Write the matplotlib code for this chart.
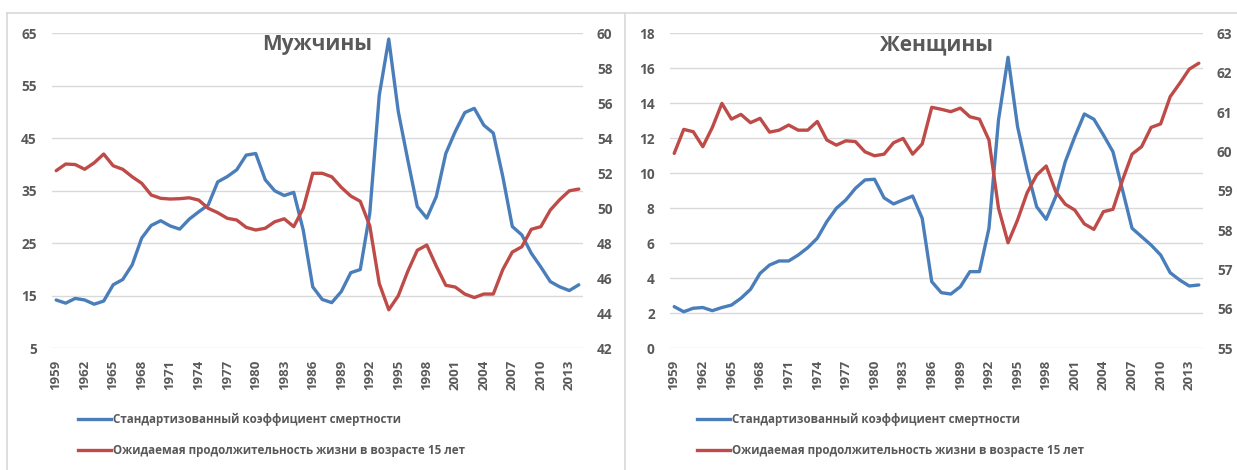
import matplotlib
matplotlib.use("Agg")
import matplotlib.pyplot as plt
from matplotlib.lines import Line2D

plt.rcParams['font.family'] = ['Open Sans', 'DejaVu Sans']

years = list(range(1959, 2015))

# мужчины
men_mort = [14.2, 13.6, 14.5, 14.2, 13.4, 14.0, 17.1, 18.1, 20.9, 26.0,
            28.4, 29.3, 28.3, 27.7, 29.6, 31.0, 32.3, 36.7, 37.7, 39.0,
            41.8, 42.1, 37.1, 35.0, 34.1, 34.7, 27.5, 16.7, 14.3, 13.7,
            15.8, 19.4, 20.0, 30.7, 53.2, 63.9, 50.1, 40.9, 32.0, 29.8,
            33.9, 42.1, 46.3, 49.9, 50.7, 47.5, 46.0, 37.7, 28.2, 26.6,
            23.1, 20.5, 17.7, 16.7, 16.0, 17.1]
men_life = [52.15, 52.53, 52.5, 52.23, 52.6, 53.1, 52.43, 52.23, 51.8, 51.43,
            50.76, 50.57, 50.53, 50.55, 50.6, 50.47, 50.0, 49.75, 49.43, 49.33,
            48.91, 48.76, 48.86, 49.23, 49.4, 48.95, 50.0, 52.0, 52.0, 51.8,
            51.2, 50.7, 50.4, 49.0, 45.7, 44.2, 45.0, 46.4, 47.6, 47.9,
            46.7, 45.6, 45.5, 45.1, 44.9, 45.1, 45.1, 46.5, 47.5, 47.8,
            48.8, 48.95, 49.9, 50.5, 51.0, 51.1]

# женщины
wom_mort = [2.38, 2.09, 2.29, 2.33, 2.15, 2.33, 2.47, 2.86, 3.37, 4.28,
            4.76, 4.99, 4.99, 5.33, 5.75, 6.29, 7.24, 8.0, 8.48, 9.14,
            9.62, 9.66, 8.6, 8.25, 8.48, 8.7, 7.43, 3.81, 3.18, 3.1,
            3.52, 4.38, 4.38, 6.86, 13.05, 16.63, 12.66, 10.19, 8.09, 7.37,
            8.67, 10.66, 12.09, 13.39, 13.09, 12.19, 11.23, 9.05, 6.86, 6.38,
            5.9, 5.33, 4.32, 3.9, 3.56, 3.62]
wom_life = [59.95, 60.56, 60.5, 60.12, 60.61, 61.22, 60.82, 60.94, 60.73, 60.84,
            60.49, 60.54, 60.67, 60.54, 60.54, 60.76, 60.29, 60.16, 60.27, 60.25,
            59.99, 59.89, 59.93, 60.22, 60.33, 59.93, 60.19, 61.12, 61.07, 61.01,
            61.1, 60.88, 60.82, 60.29, 58.56, 57.68, 58.26, 58.95, 59.4, 59.63,
            58.98, 58.66, 58.51, 58.16, 58.02, 58.47, 58.53, 59.27, 59.93, 60.12,
            60.61, 60.7, 61.39, 61.73, 62.09, 62.24]

label_mort = 'Стандартизованный коэффициент смертности'
label_life = 'Ожидаемая продолжительность жизни в возрасте 15 лет'

BLUE = '#4a7ebb'
RED = '#be4b48'
TXT = '#595959'
GRID = '#d9d9d9'

W, H = 1237, 470
fig = plt.figure(figsize=(W / 100, H / 100), dpi=100)


def panel(x0, x1, title, mort, life, lim_l, ticks_l, lim_r, ticks_r, leg_x):
    ax = fig.add_axes([x0 / W, 1 - 348.3 / H, (x1 - x0) / W, 315 / H])
    ax2 = ax.twinx()
    ax.plot(years, mort, color=BLUE, lw=2.4, solid_capstyle='round')
    ax2.plot(years, life, color=RED, lw=2.4, solid_capstyle='round')
    ax.set_xlim(1958.56, 2014.44)
    ax.set_ylim(*lim_l)
    ax.set_yticks(ticks_l)
    ax2.set_ylim(*lim_r)
    ax2.set_yticks(ticks_r)
    ax.set_xticks(years[::3])
    ax.set_xticklabels([str(y) for y in years[::3]], rotation=90)
    ax.grid(axis='y', color=GRID, lw=1)
    ax.set_axisbelow(True)
    for a in (ax, ax2):
        for s in a.spines.values():
            s.set_visible(False)
        a.tick_params(length=0, labelsize=9.8, labelcolor=TXT)
        for t in a.get_xticklabels() + a.get_yticklabels():
            t.set_fontweight('bold')
    ax.tick_params(axis='x', labelsize=9.5, pad=8)
    ax.tick_params(axis='y', pad=11)
    ax2.tick_params(axis='y', pad=10)
    ax.text(0.5, 0.963, title, transform=ax.transAxes, ha='center', va='center',
            fontsize=15, fontweight='bold', color=TXT)
    handles = [Line2D([], [], color=BLUE, lw=2.4), Line2D([], [], color=RED, lw=2.4)]
    leg = fig.legend(handles, [label_mort, label_life], loc='upper left',
                     bbox_to_anchor=(leg_x / W, 1 - 413 / H), frameon=False,
                     borderpad=0, borderaxespad=0, handlelength=2.8,
                     handletextpad=0.2, labelspacing=1.55,
                     prop={'size': 8.4, 'weight': 'bold'})
    for t in leg.get_texts():
        t.set_color(TXT)
    return ax


panel(52, 583, 'Мужчины', men_mort, men_life, (5, 65), range(5, 66, 10),
      (42, 60), range(42, 61, 2), 78)
panel(670, 1203, 'Женщины', wom_mort, wom_life, (0, 18), range(0, 19, 2),
      (55, 63), range(55, 64, 1), 697)

# рамки панелей
fig.add_artist(Line2D([7 / W, 1], [1 - 13 / H, 1 - 13 / H], color=GRID, lw=1.2))
fig.add_artist(Line2D([7 / W, 7 / W], [0, 1 - 13 / H], color=GRID, lw=1.2))
fig.add_artist(Line2D([625 / W, 625 / W], [0, 1 - 13 / H], color=GRID, lw=1.2))

fig.savefig('out.png', dpi=100)
